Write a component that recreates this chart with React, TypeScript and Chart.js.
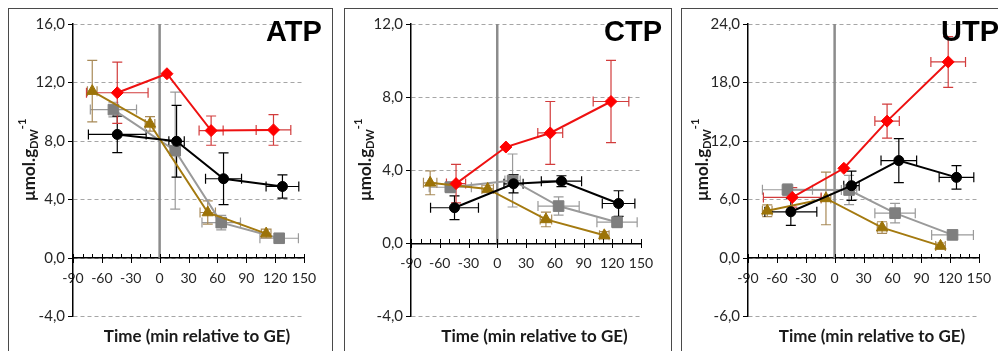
import React, { useEffect, useRef } from 'react';
import { Chart, registerables } from 'chart.js';

Chart.register(...registerables);

// ---------- shared axis values ----------
const xTickMin = -90;
const xTickMax = 150;
const xTickStep = 30;
const xMinorStep = 10;
const xTitle = 'Time (min relative to GE)';

// ---------- ATP ----------
const atpBlackX = [-44, 17.6, 66.4, 127.6];
const atpBlackY = [8.45, 7.98, 5.42, 4.89];
const atpBlackXErr = [30, 8, 18.7, 17];
const atpBlackYErr = [1.25, 2.45, 1.77, 0.8];
const atpRedX = [-44, 7.6, 53.5, 118.3];
const atpRedY = [11.3, 12.6, 8.71, 8.76];
const atpRedXErr = [32, 0, 12.5, 18];
const atpRedYErr = [2.1, 0, 1.0, 1.05];
const atpGrayX = [-48, 16.2, 64, 124.2];
const atpGrayY = [10.15, 7.34, 2.42, 1.35];
const atpGrayXErr = [24, 5, 20, 20];
const atpGrayYErr = [0.5, 4.0, 0.5, 0.3];
const atpGoldX = [-70, -10, 50, 110.7];
const atpGoldY = [11.41, 9.17, 3.11, 1.67];
const atpGoldXErr = [5, 5, 8, 5];
const atpGoldYErr = [2.1, 0.5, 0.8, 0.3];

// ---------- CTP ----------
const ctpBlackX = [-44.6, 17, 67, 126.6];
const ctpBlackY = [1.95, 3.26, 3.4, 2.18];
const ctpBlackXErr = [25, 10, 21, 17];
const ctpBlackYErr = [0.65, 0.5, 0.3, 0.7];
const ctpRedX = [-43, 9, 55.3, 118.7];
const ctpRedY = [3.27, 5.27, 6.04, 7.76];
const ctpRedXErr = [10, 0, 13, 18.6];
const ctpRedYErr = [1.05, 0, 1.72, 2.25];
const ctpGrayX = [-49, 16, 64, 125];
const ctpGrayY = [3.07, 3.44, 2.04, 1.16];
const ctpGrayXErr = [22, 8, 21.5, 21];
const ctpGrayYErr = [0.3, 1.45, 0.5, 0.3];
const ctpGoldX = [-70, -10, 50.8, 111.7];
const ctpGoldY = [3.31, 2.98, 1.31, 0.44];
const ctpGoldXErr = [7, 6, 6, 5];
const ctpGoldYErr = [0.65, 0.2, 0.4, 0.2];

// ---------- UTP ----------
const utpBlackX = [-45.5, 17.5, 66.7, 126.6];
const utpBlackY = [4.74, 7.42, 9.99, 8.27];
const utpBlackXErr = [27, 8, 18.5, 18];
const utpBlackYErr = [1.4, 1.5, 2.25, 1.2];
const utpRedX = [-44, 9.6, 54.5, 118];
const utpRedY = [6.21, 9.2, 14.04, 20.11];
const utpRedXErr = [30, 0, 12.7, 18];
const utpRedYErr = [1.0, 0, 1.75, 2.6];
const utpGrayX = [-49, 15, 62.8, 122.5];
const utpGrayY = [7.0, 6.97, 4.6, 2.37];
const utpGrayXErr = [26, 8, 21, 21.7];
const utpGrayYErr = [0.6, 1.5, 1.0, 0.3];
const utpGoldX = [-70, -9, 49.3, 110];
const utpGoldY = [4.84, 6.11, 3.12, 1.24];
const utpGoldXErr = [5, 5, 5, 5];
const utpGoldYErr = [0.6, 2.7, 0.6, 0.3];

// ---------- styles ----------
const STYLES = {
  red: { line: '#ee1111', point: '#ff0000', err: '#d23c3c', style: 'rectRot', radius: 6, order: 0 },
  black: { line: '#000000', point: '#000000', err: '#000000', style: 'circle', radius: 5, order: 1 },
  gold: { line: '#a47a10', point: '#9c7308', err: '#a88a58', style: 'triangle', radius: 6.5, order: 2 },
  gray: { line: '#9a9a9a', point: '#7f7f7f', err: '#9a9a9a', style: 'rect', radius: 7.5, order: 3 },
};

type Series = { key: keyof typeof STYLES; x: number[]; y: number[]; xe: number[]; ye: number[] };
type Panel = {
  title: string; yMin: number; yMax: number; yStep: number; series: Series[];
  left: number; width: number; axisLeft: number; padRight: number;
};

const PANELS: Panel[] = [
  {
    title: 'ATP', yMin: -4, yMax: 16, yStep: 4, left: 8, width: 325, axisLeft: 64, padRight: 28,
    series: [
      { key: 'gray', x: atpGrayX, y: atpGrayY, xe: atpGrayXErr, ye: atpGrayYErr },
      { key: 'gold', x: atpGoldX, y: atpGoldY, xe: atpGoldXErr, ye: atpGoldYErr },
      { key: 'black', x: atpBlackX, y: atpBlackY, xe: atpBlackXErr, ye: atpBlackYErr },
      { key: 'red', x: atpRedX, y: atpRedY, xe: atpRedXErr, ye: atpRedYErr },
    ],
  },
  {
    title: 'CTP', yMin: -4, yMax: 12, yStep: 4, left: 344, width: 328, axisLeft: 66, padRight: 30,
    series: [
      { key: 'gray', x: ctpGrayX, y: ctpGrayY, xe: ctpGrayXErr, ye: ctpGrayYErr },
      { key: 'gold', x: ctpGoldX, y: ctpGoldY, xe: ctpGoldXErr, ye: ctpGoldYErr },
      { key: 'black', x: ctpBlackX, y: ctpBlackY, xe: ctpBlackXErr, ye: ctpBlackYErr },
      { key: 'red', x: ctpRedX, y: ctpRedY, xe: ctpRedXErr, ye: ctpRedYErr },
    ],
  },
  {
    title: 'UTP', yMin: -6, yMax: 24, yStep: 6, left: 681, width: 330, axisLeft: 66, padRight: 31,
    series: [
      { key: 'gray', x: utpGrayX, y: utpGrayY, xe: utpGrayXErr, ye: utpGrayYErr },
      { key: 'gold', x: utpGoldX, y: utpGoldY, xe: utpGoldXErr, ye: utpGoldYErr },
      { key: 'black', x: utpBlackX, y: utpBlackY, xe: utpBlackXErr, ye: utpBlackYErr },
      { key: 'red', x: utpRedX, y: utpRedY, xe: utpRedXErr, ye: utpRedYErr },
    ],
  },
];

const CANVAS_H = 342;
const FONT = 'Lato';

function fmt(v: number) {
  return v.toFixed(1).replace('.', ',');
}

function PanelChart({ panel }: { panel: Panel }) {
  const ref = useRef<HTMLCanvasElement | null>(null);
  const cw = panel.width - 2;

  useEffect(() => {
    const canvas = ref.current;
    if (!canvas) return;

    const custom = {
      id: 'custom',
      beforeDatasetsDraw(chart: any) {
        const { ctx, scales } = chart;
        const xs = scales.x, ys = scales.y;
        ctx.save();
        ctx.lineWidth = 1.2;
        const cap = 5;
        panel.series.forEach((s) => {
          const st = STYLES[s.key];
          ctx.strokeStyle = st.err;
          s.x.forEach((xv, i) => {
            const yv = s.y[i];
            const px = xs.getPixelForValue(xv);
            const py = ys.getPixelForValue(yv);
            ctx.beginPath();
            if (s.xe[i] > 0) {
              const x1 = xs.getPixelForValue(xv - s.xe[i]);
              const x2 = xs.getPixelForValue(xv + s.xe[i]);
              ctx.moveTo(x1, py); ctx.lineTo(x2, py);
              ctx.moveTo(x1, py - cap); ctx.lineTo(x1, py + cap);
              ctx.moveTo(x2, py - cap); ctx.lineTo(x2, py + cap);
            }
            if (s.ye[i] > 0) {
              const y1 = ys.getPixelForValue(yv - s.ye[i]);
              const y2 = ys.getPixelForValue(yv + s.ye[i]);
              ctx.moveTo(px, y1); ctx.lineTo(px, y2);
              ctx.moveTo(px - cap, y1); ctx.lineTo(px + cap, y1);
              ctx.moveTo(px - cap, y2); ctx.lineTo(px + cap, y2);
            }
            ctx.stroke();
          });
        });
        ctx.restore();
      },
      afterDraw(chart: any) {
        const { ctx, scales, chartArea } = chart;
        const xs = scales.x, ys = scales.y;
        ctx.save();
        // x axis tick marks
        const y0 = Math.round(ys.getPixelForValue(0));
        ctx.strokeStyle = '#000';
        ctx.lineWidth = 1;
        ctx.beginPath();
        for (let v = xTickMin; v <= xTickMax; v += xMinorStep) {
          const px = Math.round(xs.getPixelForValue(v)) + 0.5;
          const major = (v - xTickMin) % xTickStep === 0;
          ctx.moveTo(px, y0 - 4);
          ctx.lineTo(px, major ? y0 + 5 : y0);
        }
        ctx.stroke();

        // panel title
        ctx.fillStyle = '#000';
        ctx.font = 'bold 29px "Liberation Sans"';
        ctx.textAlign = 'left';
        ctx.textBaseline = 'alphabetic';
        ctx.fillText(panel.title, chartArea.left + 193, 32);

        // x title
        ctx.fillStyle = '#1a1a1a';
        ctx.font = `bold 17px ${FONT}`;
        ctx.textAlign = 'center';
        ctx.textBaseline = 'middle';
        ctx.fillText(xTitle, (chartArea.left + chartArea.right) / 2 + 8.5, 328);

        // y title (rotated, with subscript and superscript)
        const mainFont = `bold 17px ${FONT}`;
        const smallFont = `bold 11px ${FONT}`;
        ctx.font = mainFont;
        const w1 = ctx.measureText('µmol.g').width;
        ctx.font = smallFont;
        const w2 = ctx.measureText('DW').width;
        const w3 = ctx.measureText('-1').width;
        const total = w1 + w2 + w3;
        ctx.translate(20.5, 151);
        ctx.rotate(-Math.PI / 2);
        ctx.textAlign = 'left';
        ctx.textBaseline = 'middle';
        let tx = -total / 2;
        ctx.font = mainFont;
        ctx.fillText('µmol.g', tx, 0);
        tx += w1;
        ctx.font = smallFont;
        ctx.fillText('DW', tx, 5);
        ctx.fillText('-1', tx + w2, -7);
        ctx.restore();
      },
    };

    const datasets: any[] = panel.series.map((s) => {
      const st = STYLES[s.key];
      return {
        data: s.x.map((xv, i) => ({ x: xv, y: s.y[i] })),
        borderColor: st.line,
        backgroundColor: st.point,
        pointBackgroundColor: st.point,
        pointBorderColor: st.point,
        pointStyle: st.style,
        pointRadius: st.radius,
        pointBorderWidth: 1,
        borderWidth: 2,
        order: st.order,
        tension: 0,
      };
    });
    datasets.push({
      data: [{ x: 0, y: panel.yMax }, { x: 0, y: 0 }],
      borderColor: '#8c8c8c',
      borderWidth: 2.5,
      pointRadius: 0,
      order: 10,
    });

    const chart = new Chart(canvas, {
      type: 'line',
      data: { datasets },
      options: {
        responsive: false,
        animation: false,
        devicePixelRatio: 1,
        layout: { padding: { left: 0, top: 15, right: panel.padRight, bottom: 34.5 } },
        plugins: { legend: { display: false }, tooltip: { enabled: false }, title: { display: false } },
        scales: {
          x: {
            type: 'linear',
            min: xTickMin,
            max: xTickMax,
            position: { y: 0 } as any,
            ticks: {
              stepSize: xTickStep,
              autoSkip: false,
              maxRotation: 0,
              font: { family: FONT, size: 14 },
              color: '#262626',
              padding: 12,
            },
            grid: { display: true, drawOnChartArea: false, drawTicks: false },
            border: { color: '#000', width: 1.5 },
          },
          y: {
            type: 'linear',
            min: panel.yMin,
            max: panel.yMax,
            ticks: {
              stepSize: panel.yStep,
              font: { family: FONT, size: 15 },
              color: '#262626',
              padding: 3,
              callback: (v: any) => fmt(Number(v)),
            },
            grid: { color: '#a6a6a6', tickColor: '#000', tickLength: 5, lineWidth: 1 },
            border: { color: '#000', width: 1.5, dash: [4, 3] },
            afterFit: (s: any) => { s.width = panel.axisLeft; },
          },
        },
      } as any,
      plugins: [custom],
    });
    return () => chart.destroy();
  }, [panel]);

  return (
    <div
      style={{
        position: 'absolute',
        left: panel.left,
        top: 8,
        width: panel.width,
        height: 360,
        border: '1px solid #4a4a4a',
        boxSizing: 'border-box',
        background: '#fff',
      }}
    >
      <canvas
        ref={ref}
        width={cw}
        height={CANVAS_H}
        style={{ position: 'absolute', left: 0, top: 0, width: cw, height: CANVAS_H }}
      />
    </div>
  );
}

export default function App() {
  return (
    <div style={{ position: 'fixed', left: 0, top: 0, width: 998, height: 351, overflow: 'hidden', background: '#fff' }}>
      {PANELS.map((p) => (
        <PanelChart key={p.title} panel={p} />
      ))}
    </div>
  );
}
